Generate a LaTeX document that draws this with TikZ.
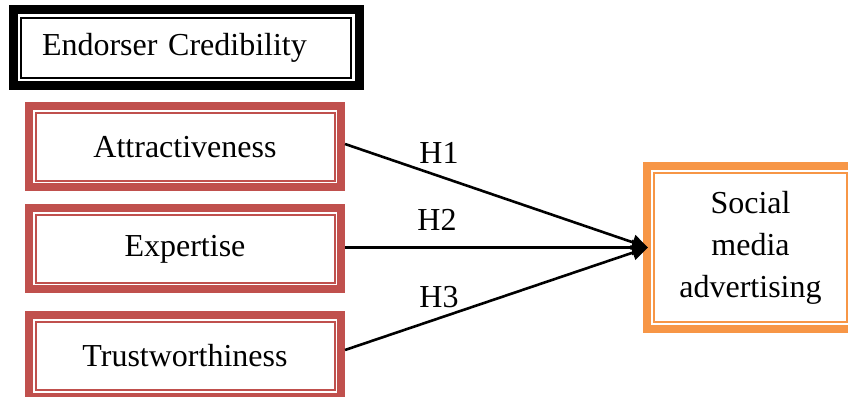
\documentclass[tikz,border=0pt]{standalone}
\usepackage{fontspec}
\setmainfont{Liberation Serif}
\usetikzlibrary{arrows.meta}
\definecolor{boxred}{HTML}{C0504D}
\definecolor{boxorange}{HTML}{F79646}
\tikzset{
  framed/.style 2 args={draw=#1, line width=8pt,
    path picture={\draw[#1, line width=2pt]
      ([shift={(#2,#2)}]path picture bounding box.south west) rectangle
      ([shift={(-#2,-#2)}]path picture bounding box.north east);}},
  factor/.style={framed={boxred}{6.5pt}, minimum width=312pt, minimum height=81pt, inner sep=0pt},
  link/.style={line width=2.6pt, -{Triangle[length=16pt,width=15pt]}}
}
\begin{document}
\begin{tikzpicture}[x=1pt, y=1pt, font=\fontsize{32}{42}\selectfont]
  \useasboundingbox (0,0) rectangle (848,396);
  \node[framed={black}{8pt}, line width=9pt, minimum width=346pt, minimum height=76pt,
    text width=288pt, inner xsep=29pt, align=left] (ec) at (186,348) {Endorser Credibility};
  \node[factor] (attr) at (185,249) {Attractiveness};
  \node[factor] (exp) at (185,147) {Expertise};
  \node[factor] (trust) at (185,40) {Trustworthiness};
  \node[framed={boxorange}{7pt}, minimum width=207pt, minimum height=163pt,
    inner sep=0pt, align=center] (sma) at (750.5,148.5) {Social\\media\\advertising};
  \coordinate (tip) at (648,148.5);
  \begin{scope}[link]
    \draw ([yshift=3pt]attr.east) to (tip);
    \draw ([yshift=1.5pt]exp.east) to (tip);
    \draw ([yshift=6pt]trust.east) to (tip);
  \end{scope}
  \node (h1) at (439,243) {H1};
  \node (h2) at (437,176) {H2};
  \node (h3) at (439,99) {H3};
\end{tikzpicture}
\end{document}
